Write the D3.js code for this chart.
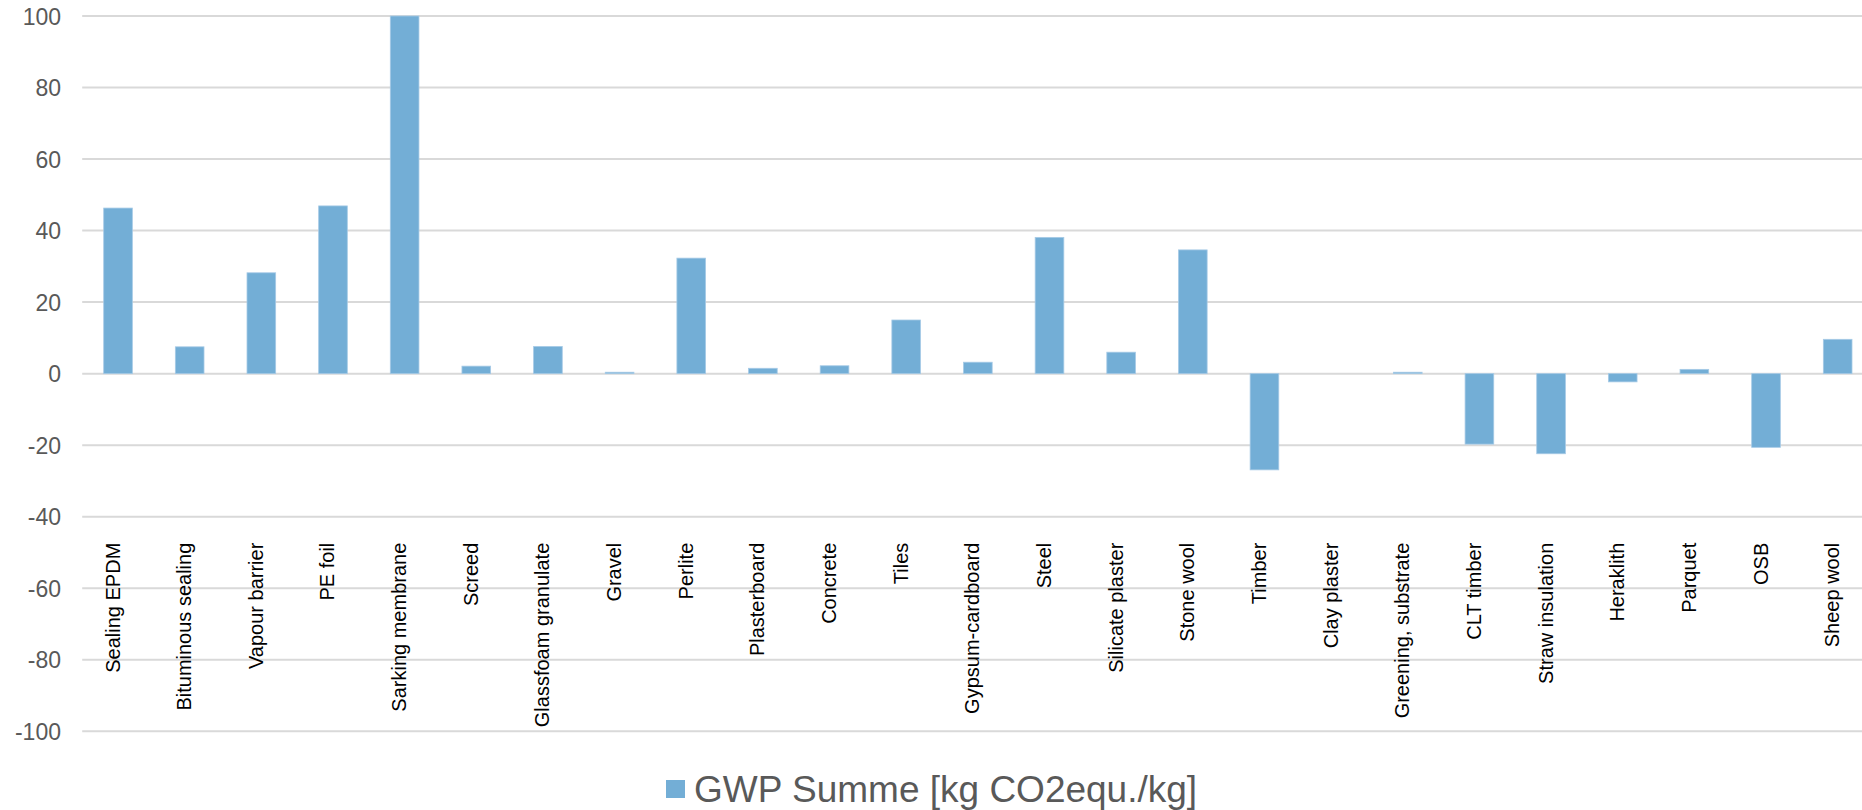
<!DOCTYPE html>
<html>
<head>
<meta charset="utf-8">
<script src="https://cdn.jsdelivr.net/npm/d3@7/dist/d3.min.js"></script>
<style>
  html, body { margin: 0; padding: 0; background: #ffffff; overflow: hidden; }
  svg { display: block; }
</style>
</head>
<body>
<script>
// Building materials and their global warming potential (kg CO2-equivalent per kg)
const categories = [
  "Sealing EPDM", "Bituminous sealing", "Vapour barrier", "PE foil", "Sarking membrane",
  "Screed", "Glassfoam granulate", "Gravel", "Perlite", "Plasterboard", "Concrete",
  "Tiles", "Gypsum-cardboard", "Steel", "Silicate plaster", "Stone wool", "Timber",
  "Clay plaster", "Greening, substrate", "CLT timber", "Straw insulation", "Heraklith",
  "Parquet", "OSB", "Sheep wool"
];
const gwpValues = [
  46.3, 7.5, 28.2, 46.9, 100.0,
  2.1, 7.6, 0.4, 32.3, 1.5, 2.2,
  15.0, 3.2, 38.1, 6.0, 34.6, -26.9,
  0.0, 0.4, -19.7, -22.4, -2.3,
  1.2, -20.6, 9.6
];
const yTicks = [-100, -80, -60, -40, -20, 0, 20, 40, 60, 80, 100];
const seriesName = "GWP Summe [kg CO2equ./kg]";

const W = 1862, H = 810;
const barColor = "#73aed6";
const font = "'Liberation Sans', Arial, sans-serif";

const svg = d3.select("body").append("svg")
  .attr("width", W).attr("height", H);

const x = d3.scaleBand()
  .domain(categories)
  .range([82.2, 1873.5])
  .paddingInner(0.6)
  .paddingOuter(0.3);

const y = d3.scaleLinear()
  .domain([-100, 100])
  .range([731.3, 16]);

// horizontal gridlines
svg.append("g")
  .selectAll("line")
  .data(yTicks)
  .join("line")
  .attr("x1", x.range()[0])
  .attr("x2", x.range()[1])
  .attr("y1", d => y(d))
  .attr("y2", d => y(d))
  .attr("stroke", "#d9d9d9")
  .attr("stroke-width", 2);

// value axis labels (plain hyphen for negatives)
const yAxis = d3.axisLeft(y)
  .tickValues(yTicks)
  .tickSize(0)
  .tickPadding(0)
  .tickFormat(d => String(d));

const yg = svg.append("g")
  .attr("transform", "translate(61,0)")
  .call(yAxis);
yg.select(".domain").remove();
yg.selectAll("text")
  .attr("font-family", font)
  .attr("font-size", 23)
  .attr("fill", "#595959")
  .attr("dy", "0.35em");

// bars
svg.append("g")
  .selectAll("rect")
  .data(categories.map((c, i) => ({ c, v: gwpValues[i] })))
  .join("rect")
  .attr("x", d => x(d.c))
  .attr("width", x.bandwidth())
  .attr("y", d => Math.min(y(d.v), y(0)))
  .attr("height", d => Math.abs(y(d.v) - y(0)))
  .attr("fill", barColor)
  .attr("stroke", "#a6cae6")
  .attr("stroke-width", 0.8);

// rotated category labels
svg.append("g")
  .selectAll("text")
  .data(categories)
  .join("text")
  .attr("transform", d => `translate(${x(d) + x.bandwidth() / 2 + 1.5},542.7) rotate(-90)`)
  .attr("text-anchor", "end")
  .attr("font-family", font)
  .attr("font-size", 20)
  .attr("fill", "#000000")
  .text(d => d);

// legend
const legend = svg.append("g");
legend.append("rect")
  .attr("x", 666).attr("y", 780)
  .attr("width", 19).attr("height", 18)
  .attr("fill", barColor);
legend.append("text")
  .attr("x", 694).attr("y", 801.7)
  .attr("font-family", font)
  .attr("font-size", 37)
  .attr("fill", "#595959")
  .text(seriesName);
</script>
</body>
</html>
